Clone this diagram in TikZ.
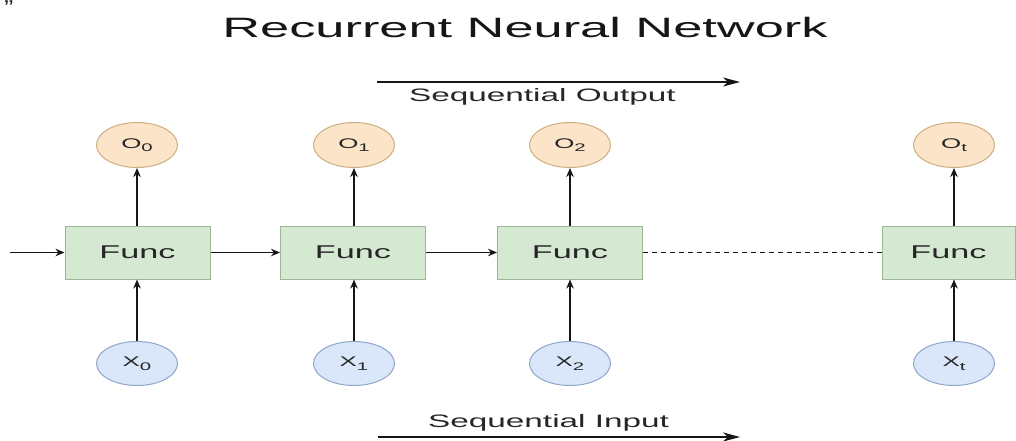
\documentclass[tikz,border=0pt]{standalone}
\usepackage{fontspec}
\setmainfont{Liberation Sans}
\usepackage{graphicx}
\usetikzlibrary{arrows.meta,shapes.geometric}
\definecolor{ofill}{HTML}{FCE4C8}
\definecolor{odraw}{HTML}{CDAE82}
\definecolor{ffill}{HTML}{D5E8D2}
\definecolor{fdraw}{HTML}{9BB892}
\definecolor{xfill}{HTML}{DAE7FA}
\definecolor{xdraw}{HTML}{8EA6C8}
\definecolor{ink}{HTML}{161616}
\definecolor{txt}{HTML}{262626}
\newcommand\stretchx[2][1.85]{\scalebox{#1}[1]{#2}}
\newcommand\subx[1]{\raisebox{-0.25em}{\fontsize{11}{12}\selectfont #1}}
\begin{document}
\begin{tikzpicture}[x=1pt,y=-1pt,
  outnode/.style={ellipse, draw=odraw, fill=ofill, line width=1pt, minimum width=81pt, minimum height=45pt, inner sep=0pt, font=\fontsize{14}{15}\selectfont, text=txt},
  innode/.style={ellipse, draw=xdraw, fill=xfill, line width=1pt, minimum width=81pt, minimum height=44pt, inner sep=0pt, font=\fontsize{14}{15}\selectfont, text=txt},
  funcbox/.style={rectangle, draw=fdraw, fill=ffill, line width=1pt, minimum width=145pt, minimum height=53pt, inner sep=0pt, font=\fontsize{18.5}{20}\selectfont, text=txt},
  conn/.style={draw=ink, line width=1.4pt, -{Stealth[length=9pt,width=7.5pt]}},
  seqarrow/.style={draw=ink, line width=1.2pt, -{Stealth[length=17pt,width=9pt,inset=5pt]}},
  label/.style={inner sep=0pt, font=\fontsize{18}{20}\selectfont, text=txt},
]
\useasboundingbox (0,0) rectangle (1016,441);
\fill[white] (0,0) rectangle (1016,441);

% stray quote mark
\node[anchor=north west, inner sep=0pt, font=\fontsize{20}{20}\selectfont, text=txt] (q) at (4,0.5) {\stretchx[1.4]{”}};

% title
\node[anchor=base, inner sep=0pt, font=\fontsize{28}{30}\selectfont, text=ink] (title) at (525,38) {\stretchx[1.87]{Recurrent Neural Network}};

% sequential output
\coordinate (soa) at (377,82);
\coordinate (sob) at (740,82);
\draw[seqarrow] (soa) -- (sob);
\node[label, anchor=base west] (solab) at (409,102) {\stretchx{Sequential Output}};

% output nodes
\node[outnode] (o0) at (137,145) {\stretchx{O\subx{0}}};
\node[outnode] (o1) at (354,145) {\stretchx{O\subx{1}}};
\node[outnode] (o2) at (570,145) {\stretchx{O\subx{2}}};
\node[outnode] (ot) at (954,145) {\stretchx{O\subx{t}}};

% function boxes
\node[funcbox] (f0) at (137.5,252.5) {\stretchx{Func}};
\node[funcbox] (f1) at (353,252.5) {\stretchx{Func}};
\node[funcbox] (f2) at (570,252.5) {\stretchx{Func}};
\node[funcbox, minimum width=133pt] (f3) at (948.5,252.5) {\stretchx{Func}};

% input nodes
\node[innode] (x0) at (137,363.5) {\stretchx{X\subx{0}}};
\node[innode] (x1) at (354,363.5) {\stretchx{X\subx{1}}};
\node[innode] (x2) at (570,363.5) {\stretchx{X\subx{2}}};
\node[innode] (xt) at (954,363.5) {\stretchx{X\subx{t}}};

% vertical connectors
\draw[conn] (x0.north) -- (x0.north |- f0.south);
\draw[conn] (x1.north) -- (x1.north |- f1.south);
\draw[conn] (x2.north) -- (x2.north |- f2.south);
\draw[conn] (xt.north) -- (xt.north |- f3.south);
\draw[conn] (o0.south |- f0.north) -- (o0.south);
\draw[conn] (o1.south |- f1.north) -- (o1.south);
\draw[conn] (o2.south |- f2.north) -- (o2.south);
\draw[conn] (ot.south |- f3.north) -- (ot.south);

% horizontal connectors
\coordinate (start) at (10,252.5);
\draw[conn] (start) -- (f0.west);
\draw[conn] (f0.east) -- (f1.west);
\draw[conn] (f1.east) -- (f2.west);
\draw[draw=ink, line width=1.2pt, dash pattern=on 5pt off 4pt] (f2.east) -- (f3.west);

% sequential input
\node[label, anchor=base west] (silab) at (428,427) {\stretchx{Sequential Input}};
\coordinate (sia) at (378,437);
\coordinate (sib) at (740,437);
\draw[seqarrow] (sia) -- (sib);
\end{tikzpicture}
\end{document}
